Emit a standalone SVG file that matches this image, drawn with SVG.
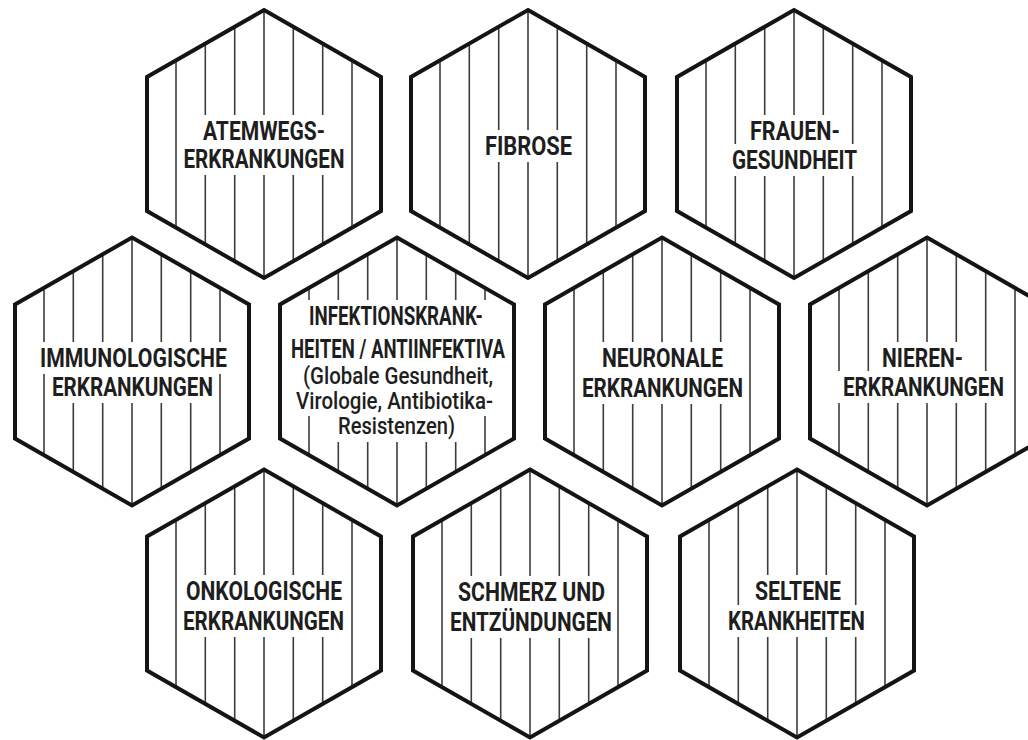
<svg xmlns="http://www.w3.org/2000/svg" xmlns:xlink="http://www.w3.org/1999/xlink" width="1028" height="740" viewBox="0 0 1028 740">
<style>
.hex{fill:none;stroke:#141414;stroke-width:4;stroke-linejoin:miter}
.st{stroke:#3c3c3c;stroke-width:1.6}
.bg{fill:#ffffff}
.t{font-family:"Roboto","Liberation Sans",sans-serif;font-weight:700;font-size:25px;fill:#1e1e1e;text-anchor:middle}
.s{font-family:"Roboto","Liberation Sans",sans-serif;font-weight:500;font-size:24px;fill:#1e1e1e;text-anchor:middle}
</style>
<defs>
<clipPath id="hc"><polygon points="0,-134 117,-67 117,67 0,134 -117,67 -117,-67"/></clipPath>
<polygon id="hex" class="hex" points="0,-134 117,-67 117,67 0,134 -117,67 -117,-67"/>
<g id="stripes" class="st">
<line x1="-88" y1="-140" x2="-88" y2="140"/>
<line x1="-58.7" y1="-140" x2="-58.7" y2="140"/>
<line x1="-29.3" y1="-140" x2="-29.3" y2="140"/>
<line x1="0" y1="-140" x2="0" y2="140"/>
<line x1="29.3" y1="-140" x2="29.3" y2="140"/>
<line x1="58.7" y1="-140" x2="58.7" y2="140"/>
<line x1="88" y1="-140" x2="88" y2="140"/>
</g>
</defs>
<rect width="1028" height="740" fill="#ffffff"/>
<g id="connectors"></g>

<g id="n-atemwege">
<g transform="translate(264,144)"><use xlink:href="#stripes" clip-path="url(#hc)"/></g>
<rect class="bg" x="197" y="115" width="134" height="32"/>
<rect class="bg" x="178.5" y="143" width="171" height="32"/>
<g transform="translate(264,144)"><use xlink:href="#hex"/></g>
<text class="t" x="264" y="140" textLength="122" lengthAdjust="spacingAndGlyphs">ATEMWEGS-</text>
<text class="t" x="264" y="168" textLength="161" lengthAdjust="spacingAndGlyphs">ERKRANKUNGEN</text>
</g>

<g id="n-fibrose">
<g transform="translate(528,144)"><use xlink:href="#stripes" clip-path="url(#hc)"/></g>
<rect class="bg" x="480" y="130" width="97" height="32"/>
<g transform="translate(528,144)"><use xlink:href="#hex"/></g>
<text class="t" x="528.5" y="155" textLength="87" lengthAdjust="spacingAndGlyphs">FIBROSE</text>
</g>

<g id="n-frauen">
<g transform="translate(794,144)"><use xlink:href="#stripes" clip-path="url(#hc)"/></g>
<rect class="bg" x="745" y="115" width="100" height="32"/>
<rect class="bg" x="727" y="144" width="135" height="32"/>
<g transform="translate(794,144)"><use xlink:href="#hex"/></g>
<text class="t" x="795" y="140" textLength="90" lengthAdjust="spacingAndGlyphs">FRAUEN-</text>
<text class="t" x="794.5" y="169" textLength="125" lengthAdjust="spacingAndGlyphs">GESUNDHEIT</text>
</g>

<g id="n-immuno">
<g transform="translate(132,371.5)"><use xlink:href="#stripes" clip-path="url(#hc)"/></g>
<rect class="bg" x="35" y="342" width="197" height="32"/>
<rect class="bg" x="47" y="371" width="171" height="32"/>
<g transform="translate(132,371.5)"><use xlink:href="#hex"/></g>
<text class="t" x="133.5" y="367" textLength="187" lengthAdjust="spacingAndGlyphs">IMMUNOLOGISCHE</text>
<text class="t" x="132.5" y="396" textLength="161" lengthAdjust="spacingAndGlyphs">ERKRANKUNGEN</text>
</g>

<g id="n-infektion">
<g transform="translate(397,371.5)"><use xlink:href="#stripes" clip-path="url(#hc)"/></g>
<rect class="bg" x="304" y="300" width="184" height="32"/>
<rect class="bg" x="286" y="331" width="224" height="34"/>
<rect class="bg" x="298" y="359" width="200" height="32"/>
<rect class="bg" x="291" y="385" width="207" height="31"/>
<rect class="bg" x="333" y="410" width="127" height="32"/>
<g transform="translate(397,371.5)"><use xlink:href="#hex"/></g>
<text class="t" x="396" y="325" textLength="174" lengthAdjust="spacingAndGlyphs">INFEKTIONSKRANK-</text>
<text class="t" x="398" y="358" textLength="214" lengthAdjust="spacingAndGlyphs">HEITEN / ANTIINFEKTIVA</text>
<text class="s" x="398" y="384" textLength="190" lengthAdjust="spacingAndGlyphs">(Globale Gesundheit,</text>
<text class="s" x="394.5" y="409" textLength="197" lengthAdjust="spacingAndGlyphs">Virologie, Antibiotika-</text>
<text class="s" x="396.5" y="434" textLength="117" lengthAdjust="spacingAndGlyphs">Resistenzen)</text>
</g>

<g id="n-neuronal">
<g transform="translate(662,371.5)"><use xlink:href="#stripes" clip-path="url(#hc)"/></g>
<rect class="bg" x="597" y="342" width="131" height="32"/>
<rect class="bg" x="577" y="372" width="171" height="32"/>
<g transform="translate(662,371.5)"><use xlink:href="#hex"/></g>
<text class="t" x="662.5" y="367" textLength="121" lengthAdjust="spacingAndGlyphs">NEURONALE</text>
<text class="t" x="662.5" y="397" textLength="161" lengthAdjust="spacingAndGlyphs">ERKRANKUNGEN</text>
</g>

<g id="n-nieren">
<g transform="translate(927,371.5)"><use xlink:href="#stripes" clip-path="url(#hc)"/></g>
<rect class="bg" x="877" y="342" width="91" height="32"/>
<rect class="bg" x="838" y="371" width="171" height="32"/>
<g transform="translate(927,371.5)"><use xlink:href="#hex"/></g>
<text class="t" x="922.5" y="367" textLength="81" lengthAdjust="spacingAndGlyphs">NIEREN-</text>
<text class="t" x="923.5" y="396" textLength="161" lengthAdjust="spacingAndGlyphs">ERKRANKUNGEN</text>
</g>

<g id="n-onko">
<g transform="translate(264,603.5)"><use xlink:href="#stripes" clip-path="url(#hc)"/></g>
<rect class="bg" x="181" y="575" width="166" height="32"/>
<rect class="bg" x="178" y="605" width="171" height="32"/>
<g transform="translate(264,603.5)"><use xlink:href="#hex"/></g>
<text class="t" x="264" y="600" textLength="156" lengthAdjust="spacingAndGlyphs">ONKOLOGISCHE</text>
<text class="t" x="263.5" y="630" textLength="161" lengthAdjust="spacingAndGlyphs">ERKRANKUNGEN</text>
</g>

<g id="n-schmerz">
<g transform="translate(530,603.5)"><use xlink:href="#stripes" clip-path="url(#hc)"/></g>
<rect class="bg" x="453" y="576" width="157" height="32"/>
<rect class="bg" x="445" y="604" width="172" height="34"/>
<g transform="translate(530,603.5)"><use xlink:href="#hex"/></g>
<text class="t" x="531.5" y="601" textLength="147" lengthAdjust="spacingAndGlyphs">SCHMERZ UND</text>
<text class="t" x="531" y="631" textLength="162" lengthAdjust="spacingAndGlyphs">ENTZÜNDUNGEN</text>
</g>

<g id="n-selten">
<g transform="translate(797,603.5)"><use xlink:href="#stripes" clip-path="url(#hc)"/></g>
<rect class="bg" x="750" y="575" width="96" height="32"/>
<rect class="bg" x="723" y="605" width="147" height="32"/>
<g transform="translate(797,603.5)"><use xlink:href="#hex"/></g>
<text class="t" x="798" y="600" textLength="86" lengthAdjust="spacingAndGlyphs">SELTENE</text>
<text class="t" x="796.5" y="630" textLength="137" lengthAdjust="spacingAndGlyphs">KRANKHEITEN</text>
</g>
</svg>
